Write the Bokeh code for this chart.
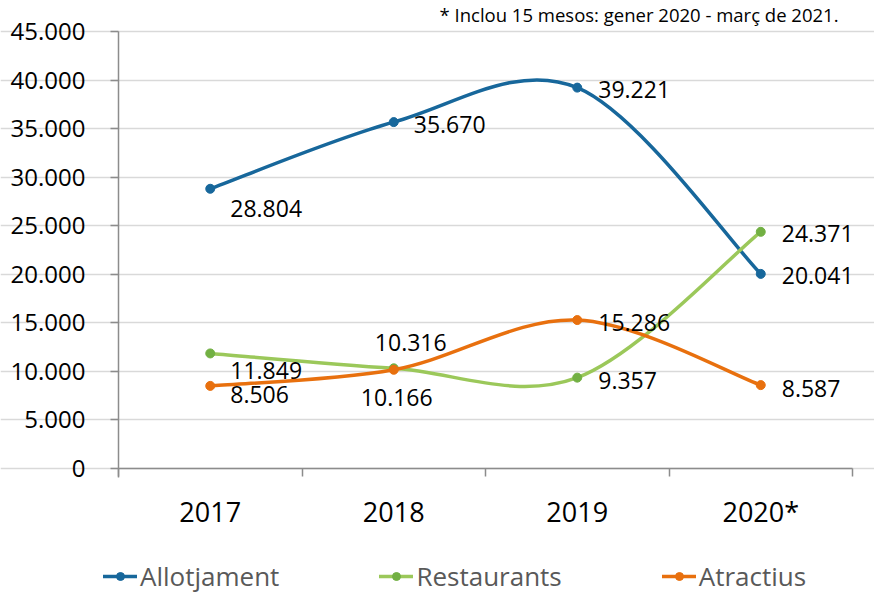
from bokeh.plotting import figure
from bokeh.models import Range1d, FixedTicker, Legend, LegendItem, Label, ColumnDataSource
from bokeh.embed import file_html
from bokeh.resources import INLINE

# ---- data ----
years = ["2017", "2018", "2019", "2020*"]
allotjament = [28804, 35670, 39221, 20041]
restaurants = [11849, 10316, 9357, 24371]
atractius = [8506, 10166, 15286, 8587]
y_ticks = [0, 5000, 10000, 15000, 20000, 25000, 30000, 35000, 40000, 45000]
footnote = "* Inclou 15 mesos: gener 2020 - març de 2021."

# ---- style / layout ----
FONT = "Open Sans"
C_ALL = "#17679B"
C_RES = "#9BC85A"
C_RES_M = "#72B043"
C_ATR = "#E8700E"
W, H = 874, 595
PLOT_L, PLOT_R, PLOT_T, PLOT_B = 118, 852, 31, 468   # pixel box of the plotting area
Y_MAX = 45000

# label offsets (pixels) per point: (dx, dy_down, align)
lab_all = [(20, 20, "left"), (20, 2, "left"), (21, 2, "left"), (21, 2, "left")]
lab_res = [(20, 17, "left"), (17, -26, "center"), (21, 3, "left"), (21, 2, "left")]
lab_atr = [(20, 9, "left"), (3, 28, "center"), (21, 2, "left"), (21, 3, "left")]

n = len(years)
xs = [i + 0.5 for i in range(n)]

def fmt(v):
    return f"{v:,}".replace(",", ".")

def bezier_cps(xv, yv):
    m = len(xv)
    P = list(zip(xv, yv))
    out = dict(x0=[], y0=[], x1=[], y1=[], cx0=[], cy0=[], cx1=[], cy1=[])
    for i in range(m - 1):
        p0 = P[i - 1] if i > 0 else P[i]
        p1 = P[i]
        p2 = P[i + 1]
        p3 = P[i + 2] if i + 2 < m else P[i + 1]
        out["x0"].append(p1[0]); out["y0"].append(p1[1])
        out["x1"].append(p2[0]); out["y1"].append(p2[1])
        out["cx0"].append(p1[0] + (p2[0] - p0[0]) / 6)
        out["cy0"].append(p1[1] + (p2[1] - p0[1]) / 6)
        out["cx1"].append(p2[0] - (p3[0] - p1[0]) / 6)
        out["cy1"].append(p2[1] - (p3[1] - p1[1]) / 6)
    return out

# ranges so the frame covers the whole canvas and the plot box lands where wanted
ux = n / (PLOT_R - PLOT_L)          # data units per pixel (x)
uy = Y_MAX / (PLOT_B - PLOT_T)      # data units per pixel (y)
x_range = Range1d(-PLOT_L * ux, n + (W - PLOT_R) * ux)
y_range = Range1d(-(H - PLOT_B) * uy, Y_MAX + PLOT_T * uy)

p = figure(width=W, height=H, output_backend="svg", toolbar_location=None,
           x_range=x_range, y_range=y_range,
           min_border_left=0, min_border_right=0, min_border_top=0, min_border_bottom=0)
p.outline_line_color = None
p.background_fill_color = "white"
p.border_fill_color = "white"

# axes
p.xaxis.fixed_location = 0
p.xaxis.bounds = (0, n)
p.xaxis.ticker = FixedTicker(ticks=xs, minor_ticks=list(range(n + 1)))
p.xaxis.major_label_overrides = {x: y for x, y in zip(xs, years)}
p.xaxis.major_tick_line_color = None
p.xaxis.minor_tick_line_color = "#8C8C8C"
p.xaxis.minor_tick_line_width = 1.5
p.xaxis.minor_tick_out = 8
p.xaxis.minor_tick_in = 0
p.xaxis.axis_line_color = "#8C8C8C"
p.xaxis.axis_line_width = 1.5
p.xaxis.major_label_text_font = FONT
p.xaxis.major_label_text_font_size = "27px"
p.xaxis.major_label_text_color = "#000000"
p.xaxis.major_label_standoff = 16

p.yaxis.fixed_location = 0
p.yaxis.bounds = (-9 * uy, Y_MAX)
p.yaxis.ticker = FixedTicker(ticks=y_ticks)
p.yaxis.major_label_overrides = {t: fmt(t) for t in y_ticks}
p.yaxis.major_tick_line_color = "#8C8C8C"
p.yaxis.major_tick_line_width = 1.5
p.yaxis.major_tick_out = 8
p.yaxis.major_tick_in = 0
p.yaxis.minor_tick_line_color = None
p.yaxis.axis_line_color = "#8C8C8C"
p.yaxis.axis_line_width = 1.5
p.yaxis.major_label_text_font = FONT
p.yaxis.major_label_text_font_size = "24px"
p.yaxis.major_label_text_color = "#000000"
p.yaxis.major_label_standoff = 25

p.xgrid.grid_line_color = None
p.ygrid.grid_line_color = "#D9D9D9"
p.ygrid.grid_line_width = 1.5
p.ygrid.bounds = (0, n)

items = []
for name, vals, col, mcol, labs in [("Allotjament", allotjament, C_ALL, C_ALL, lab_all),
                                    ("Restaurants", restaurants, C_RES, C_RES_M, lab_res),
                                    ("Atractius", atractius, C_ATR, C_ATR, lab_atr)]:
    bz = ColumnDataSource(bezier_cps(xs, vals))
    rl = p.bezier(x0="x0", y0="y0", x1="x1", y1="y1", cx0="cx0", cy0="cy0",
                  cx1="cx1", cy1="cy1", source=bz, line_color=col, line_width=3.5,
                  line_cap="round")
    rs = p.scatter(xs, vals, size=9, fill_color=mcol, line_color=mcol)
    src = ColumnDataSource(dict(x=xs, y=vals, t=[fmt(v) for v in vals],
                                dx=[l[0] for l in labs], dy=[l[1] for l in labs],
                                al=[l[2] for l in labs]))
    p.text(x="x", y="y", text="t", x_offset="dx", y_offset="dy", text_align="al",
           text_baseline="middle", source=src, text_font={"value": FONT},
           text_font_size="23px", text_color="#000000")
    items.append(LegendItem(label=name, renderers=[rl, rs]))

legend = Legend(items=items, orientation="horizontal", location=(103, 1),
                spacing=100, glyph_width=34, glyph_height=20, label_standoff=3,
                padding=0, margin=0, border_line_color=None, background_fill_alpha=0,
                label_text_font=FONT, label_text_font_size="26px",
                label_text_color="#595959")
p.add_layout(legend, "center")

p.add_layout(Label(x=n, y=Y_MAX, x_offset=-14, y_offset=17, text=footnote,
                   text_align="right", text_baseline="middle", text_font=FONT,
                   text_font_size="18.5px", text_color="#000000"))

open("out.html", "w").write(file_html(p, INLINE))
